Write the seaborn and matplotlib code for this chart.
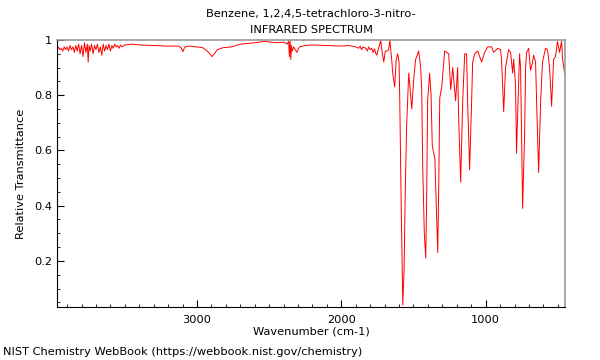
import matplotlib
matplotlib.use("Agg")
import matplotlib.pyplot as plt
import seaborn as sns
import pandas as pd
from matplotlib.ticker import MultipleLocator

# Spectrum (wavenumber in cm-1, relative transmittance)
wavenumber = [
    3970, 3960, 3950, 3940, 3930, 3920, 3910, 3900, 3890, 3880,
    3870, 3860, 3850, 3840, 3830, 3820, 3810, 3800, 3790, 3780,
    3770, 3760, 3754, 3748, 3740, 3730, 3720, 3710, 3700, 3690,
    3680, 3670, 3660, 3650, 3640, 3630, 3620, 3610, 3600, 3590,
    3580, 3570, 3560, 3550, 3540, 3530, 3520, 3500,
    3450, 3400, 3300, 3200, 3130, 3110, 3097, 3085, 3050, 3000,
    2960, 2930, 2910, 2896, 2880, 2860, 2820, 2760, 2700, 2600,
    2530, 2450, 2400, 2375, 2365, 2360, 2355, 2350, 2345, 2340,
    2330, 2308, 2290, 2250, 2200, 2100, 2000, 1950, 1900, 1880,
    1870, 1860, 1850, 1830, 1820, 1810, 1800, 1790, 1780, 1770,
    1760, 1754, 1745, 1733, 1727, 1718, 1706, 1695, 1685, 1672,
    1664, 1651, 1644, 1630, 1620, 1609, 1600, 1595, 1585, 1574,
    1565, 1557, 1548, 1533, 1526, 1512, 1498, 1485, 1464, 1450,
    1443, 1436, 1425, 1415, 1408, 1402, 1388, 1378, 1370, 1360,
    1352, 1345, 1332, 1325, 1318, 1304, 1284, 1256, 1242, 1228,
    1208, 1194, 1187, 1173, 1159, 1145, 1132, 1125, 1111, 1097,
    1090, 1076, 1055, 1028, 1007, 986, 959, 945, 917, 896,
    889, 875, 862, 841, 827, 813, 806, 793, 786, 772,
    765, 758, 751, 744, 730, 723, 716, 702, 689, 675,
    668, 654, 647, 633, 619, 606, 585, 571, 557, 543,
    529, 516, 502, 488, 474, 467, 453,
]
transmittance = [
    0.960, 0.975, 0.965, 0.970, 0.960, 0.975, 0.965, 0.975, 0.960, 0.980,
    0.965, 0.975, 0.955, 0.980, 0.960, 0.985, 0.950, 0.980, 0.940, 0.990,
    0.955, 0.985, 0.920, 0.980, 0.960, 0.985, 0.950, 0.980, 0.965, 0.985,
    0.955, 0.975, 0.945, 0.985, 0.960, 0.980, 0.965, 0.985, 0.960, 0.980,
    0.970, 0.985, 0.975, 0.980, 0.970, 0.982, 0.975, 0.982,
    0.985, 0.982, 0.980, 0.978, 0.978, 0.972, 0.958, 0.975, 0.978, 0.975,
    0.972, 0.960, 0.950, 0.940, 0.950, 0.965, 0.972, 0.975, 0.985, 0.990,
    0.995, 0.990, 0.992, 0.985, 0.995, 0.940, 1.000, 0.930, 0.980, 0.960,
    0.975, 0.955, 0.975, 0.980, 0.982, 0.980, 0.978, 0.980, 0.975, 0.970,
    0.978, 0.965, 0.975, 0.970, 0.960, 0.975, 0.965, 0.970, 0.955, 0.968,
    0.950, 0.945, 0.965, 0.985, 1.000, 0.960, 0.920, 0.960, 0.960, 0.965,
    1.000, 0.930, 0.880, 0.830, 0.930, 0.950, 0.920, 0.780, 0.400, 0.040,
    0.170, 0.450, 0.680, 0.880, 0.840, 0.750, 0.860, 0.930, 0.960, 0.900,
    0.820, 0.540, 0.300, 0.210, 0.450, 0.780, 0.880, 0.800, 0.620, 0.590,
    0.570, 0.450, 0.230, 0.470, 0.790, 0.830, 0.960, 0.950, 0.820, 0.900,
    0.780, 0.900, 0.720, 0.485, 0.780, 0.950, 0.950, 0.780, 0.530, 0.780,
    0.920, 0.950, 0.960, 0.920, 0.955, 0.975, 0.975, 0.955, 0.970, 0.965,
    0.920, 0.740, 0.900, 0.965, 0.955, 0.880, 0.930, 0.840, 0.590, 0.840,
    0.950, 0.900, 0.660, 0.390, 0.660, 0.900, 0.955, 0.970, 0.890, 0.920,
    0.945, 0.920, 0.780, 0.520, 0.780, 0.920, 0.970, 0.965, 0.900, 0.760,
    0.930, 0.940, 0.995, 0.955, 0.995, 0.930, 0.880,
]

df = pd.DataFrame({"wavenumber": wavenumber, "transmittance": transmittance})

sns.set_style("ticks")
plt.rcParams["font.family"] = ["DejaVu Sans"]
plt.rcParams["text.color"] = "black"
plt.rcParams["axes.labelcolor"] = "black"

fig = plt.figure(figsize=(6, 3.6), dpi=100)
ax = fig.add_axes([0.095, 0.1472, 0.8467, 0.7417])

sns.lineplot(data=df, x="wavenumber", y="transmittance", sort=False,
             color="#ff0000", linewidth=0.7, ax=ax)

ax.set_xlim(3970, 450)
ax.set_ylim(0.033, 1.0)

ax.xaxis.set_major_locator(MultipleLocator(1000))
ax.xaxis.set_minor_locator(MultipleLocator(100))
ax.set_yticks([0.2, 0.4, 0.6, 0.8, 1.0])
ax.set_yticklabels(["0.2", "0.4", "0.6", "0.8", "1"])
ax.yaxis.set_minor_locator(MultipleLocator(0.05))

ax.tick_params(axis="both", which="both", bottom=True, left=True,
               top=False, right=False, direction="in", colors="black")
ax.tick_params(axis="both", which="major", length=5, width=0.8, labelsize=8.2)
ax.tick_params(axis="both", which="minor", length=2.5, width=0.6)
ax.tick_params(axis="x", which="major", pad=6)

for side in ["top", "right"]:
    ax.spines[side].set_visible(True)
    ax.spines[side].set_color("#999999")
    ax.spines[side].set_linewidth(1.2)
for side in ["left", "bottom"]:
    ax.spines[side].set_color("black")
    ax.spines[side].set_linewidth(0.8)

ax.set_xlabel("Wavenumber (cm-1)", fontsize=8.2, labelpad=1)
ax.set_ylabel("Relative Transmittance", fontsize=8.2, labelpad=6)
ax.set_title("Benzene, 1,2,4,5-tetrachloro-3-nitro-\nINFRARED SPECTRUM",
             fontsize=8.2, linespacing=1.8, pad=5)

fig.text(0.005, 0.022, "NIST Chemistry WebBook (https://webbook.nist.gov/chemistry)",
         fontsize=8.2, ha="left", va="center")

fig.savefig("out.png", dpi=100)
